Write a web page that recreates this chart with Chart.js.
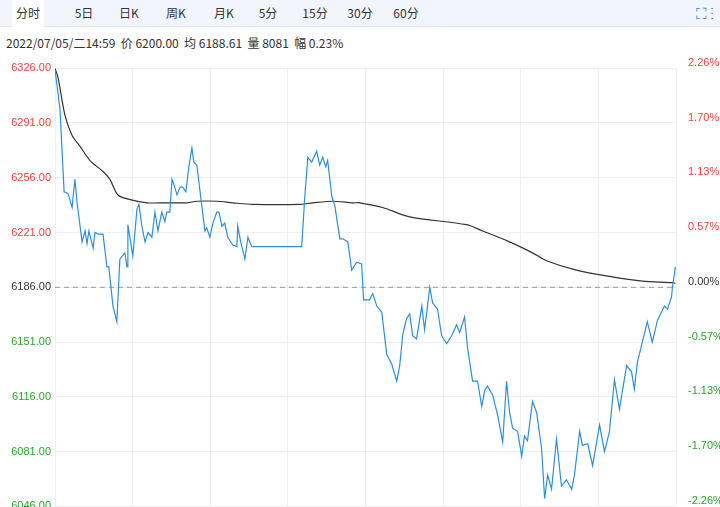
<!DOCTYPE html>
<html><head><meta charset="utf-8">
<script src="https://cdn.jsdelivr.net/npm/chart.js@4"></script>
<style>
body{margin:0;width:720px;height:507px;overflow:hidden;background:#fff;font-family:"Noto Sans CJK SC","Noto Sans",sans-serif;position:relative;}
#tabs{position:absolute;left:0;top:0;width:720px;height:26px;background:#f2f5fb;border-bottom:1px solid #e3e8f0;z-index:2;}
.tab{position:absolute;top:0;height:26px;line-height:25px;font-size:12px;color:#333;text-align:center;}
.tab.act{background:#fff;height:27px;}
#info{position:absolute;left:6px;top:34px;font-size:12px;color:#333;white-space:nowrap;z-index:2;background:#fff;}
#icons{position:absolute;right:6px;top:2px;font-size:15px;color:#3a7bd5;}
#wrap{position:absolute;left:0;top:51px;width:720px;height:466px;}
</style></head><body>
<div id="wrap"><canvas id="c"></canvas></div>
<div id="tabs">
<div class="tab act" style="left:12px;width:32px">分时</div>
<div class="tab" style="left:70px;width:28px">5日</div>
<div class="tab" style="left:114px;width:30px">日K</div>
<div class="tab" style="left:160px;width:32px">周K</div>
<div class="tab" style="left:208px;width:32px">月K</div>
<div class="tab" style="left:254px;width:28px">5分</div>
<div class="tab" style="left:298px;width:34px">15分</div>
<div class="tab" style="left:343px;width:34px">30分</div>
<div class="tab" style="left:389px;width:34px">60分</div>
<div id="icons">⛶ ⋮</div>
</div>
<div id="info">2022/07/05/二14:59 &nbsp;价 6200.00 &nbsp;均 6188.61 &nbsp;量 8081 &nbsp;幅 0.23%</div>
<script>
const prevClose = 6186;
const yTicks = [6046, 6081, 6116, 6151, 6186, 6221, 6256, 6291, 6326];
const priceT = [0,1.8,3.3,4.7,6.2,7.2,8.0,9.8,10.9,11.6,12.3,13.8,14.5,15.6,17.4,18.8,19.5,21.0,22.4,23.5,25.3,26.1,26.4,28.2,29.7,30.4,31.5,32.6,33.7,35.1,36.2,37.3,38.7,39.8,40.5,41.6,42.4,43.4,44.2,45.3,46.3,47.4,48.5,49.6,50.3,51.4,52.5,53.2,54.3,55.0,56.1,57.2,58.6,59.4,60.5,61.5,62.6,64.4,65.9,66.2,67.3,68.8,69.9,71.3,89.4,90.5,91.6,93.0,94.8,95.9,97.0,98.1,98.8,100.3,101.4,103.2,104.3,106.1,107.5,109.3,111.1,111.8,114.0,115.1,116.6,118.4,120.2,122.0,123.8,124.9,126.0,127.4,128.5,129.6,131.0,132.9,133.9,135.8,136.8,138.6,140.1,141.9,143.7,145.5,146.6,148.4,149.5,151.3,153.1,154.6,155.7,156.7,158.6,160.4,162.2,163.6,164.7,165.8,167.6,169.1,170.1,171.2,173.0,174.5,176.3,177.4,178.5,179.9,181.7,183.5,185.3,187.2,188.2,190.1,191.1,193.0,194.8,197.3,199.1,200.9,202.7,204.5,207.1,208.9,209.9,211.0,212.8,214.6,216.4,218.3,220.8,221.9,223.4,223.7,224.8];
const priceV = [6325,6300,6247,6246,6237,6255,6240,6215,6222,6214,6222,6211,6221,6220,6220,6199,6199,6174,6164,6204,6208,6199,6226,6206,6236,6239,6225,6215,6221,6218,6234,6222,6234,6228,6234,6234,6255,6250,6245,6250,6250,6247,6263,6275,6266,6264,6248,6238,6222,6224,6218,6227,6234,6234,6225,6227,6218,6213,6212,6225,6215,6204,6218,6212,6212,6244,6269,6266,6273,6264,6269,6263,6267,6244,6238,6217,6217,6215,6197,6202,6201,6178,6178,6182,6174,6170,6143,6137,6126,6136,6156,6166,6169,6155,6153,6174,6159,6186,6176,6172,6155,6150,6155,6162,6157,6167,6147,6126,6126,6110,6120,6123,6117,6104,6087,6126,6106,6096,6094,6078,6091,6088,6113,6106,6083,6051,6066,6057,6089,6059,6063,6057,6066,6094,6085,6086,6072,6098,6081,6094,6127,6108,6136,6132,6121,6138,6151,6164,6151,6165,6174,6172,6180,6186,6199];
const avgT = [0,1.1,3.6,6.2,9.1,12.7,17.4,19.9,22.8,27.2,33.3,40.5,47.8,51.4,58.6,64.4,71.7,88.7,93.4,100.6,107.9,110.4,118.7,128.5,149.1,154.9,164.7,173.0,178.1,188.9,200.9,212.8,223.7,224.8];
const avgV = [6326,6320,6296,6283,6276,6267,6260,6255,6245,6242,6240,6240,6240,6241,6241,6240,6239,6239,6240,6241,6240,6240,6237,6231,6226,6222,6215,6208,6203,6197,6193,6190,6189,6188.61];
const totalMin = 225;

const pts = (t, v) => t.map((x, i) => ({x, y: v[i]}));
const colorOf = v => v > prevClose ? '#e8473b' : (v < prevClose ? '#2aa52a' : '#333');
new Chart(document.getElementById('c'), {
  type: 'line',
  data: { datasets: [
    {data: pts(priceT, priceV), borderColor: '#2f8fd6', borderWidth: 1.2, pointRadius: 0, tension: 0},
    {data: pts(avgT, avgV), borderColor: '#333', borderWidth: 1.2, pointRadius: 0, tension: 0.3},
    {data: [{x: 0, y: prevClose}, {x: totalMin, y: prevClose}], borderColor: '#999', borderWidth: 1, borderDash: [5, 4], pointRadius: 0}
  ]},
  options: {
    responsive: true, maintainAspectRatio: false, animation: false,
    layout: {padding: {top: 3, bottom: -18}},
    plugins: {legend: {display: false}, tooltip: {enabled: false}},
    scales: {
      x: {type: 'linear', min: 0, max: totalMin,
        ticks: {display: false, stepSize: totalMin / 8},
        grid: {color: '#eceff3', drawTicks: false}, border: {display: false}},
      y: {position: 'left', min: 6046, max: 6326,
        afterBuildTicks: s => { s.ticks = yTicks.map(v => ({value: v})); },
        afterFit: s => { s.width = 55; },
        ticks: {font: {size: 11, family: 'Arial'}, padding: 4,
          color: c => colorOf(c.tick.value),
          callback: v => v.toFixed(2)},
        grid: {color: '#eceff3', drawTicks: false}, border: {display: false}},
      y2: {position: 'right', min: 6046, max: 6326,
        afterBuildTicks: s => { s.ticks = yTicks.map(v => ({value: v})); },
        afterFit: s => { s.width = 44; },
        ticks: {font: {size: 11, family: 'Arial'}, padding: 4, align: 'end',
          color: c => colorOf(c.tick.value),
          callback: v => ((v - prevClose) / prevClose * 100).toFixed(2) + '%'},
        grid: {display: false}, border: {display: false}}
    }
  }
});
</script>
</body></html>
